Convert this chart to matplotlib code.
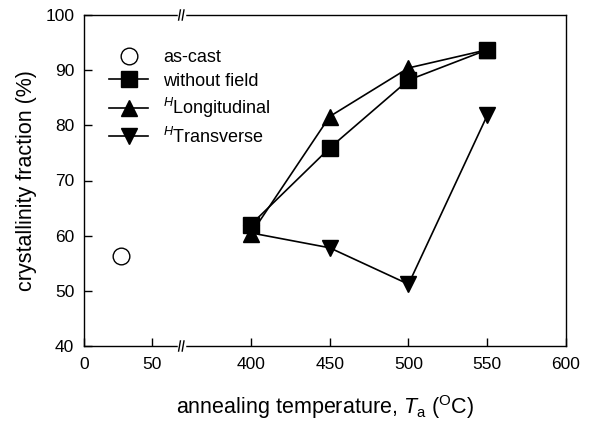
import matplotlib.pyplot as plt
from matplotlib.lines import Line2D

plt.rcParams["font.family"] = ["Liberation Sans", "DejaVu Sans"]
plt.rcParams["mathtext.fontset"] = "custom"
plt.rcParams["mathtext.rm"] = "Liberation Sans"
plt.rcParams["mathtext.it"] = "Liberation Sans:italic"

# data
as_cast_temp = [27]
as_cast_frac = [56.3]

anneal_temp = [400, 450, 500, 550]
no_field = [62.0, 75.9, 88.2, 93.7]
h_long = [60.3, 81.6, 90.4, 93.7]
h_trans = [60.5, 57.8, 51.2, 81.8]

left_ticks = [0, 50]
right_ticks = [400, 450, 500, 550, 600]


def main() -> None:
    fig = plt.figure(figsize=(5.97, 4.22), dpi=100)
    x0, x_break, x1 = 84 / 597, 181 / 597, 566 / 597
    y0, y1 = 1 - 346 / 422, 1 - 15 / 422
    ax_l = fig.add_axes((x0, y0, x_break - x0, y1 - y0))
    ax_r = fig.add_axes((x_break, y0, x1 - x_break, y1 - y0), sharey=ax_l)
    ax_r.patch.set_visible(False)

    ax_l.plot(as_cast_temp, as_cast_frac, linestyle="none", marker="o",
              ms=12, mfc="white", mec="black", mew=1.0)

    style = dict(color="black", lw=1.2, ms=11)
    ax_r.plot(anneal_temp, no_field, marker="s", **style)
    ax_r.plot(anneal_temp, h_long, marker="^", **style)
    ax_r.plot(anneal_temp, h_trans, marker="v", **style)

    ax_l.set_xlim(0, 71.3)
    ax_r.set_xlim(355.6, 600)
    ax_l.set_ylim(40, 100)
    ax_l.set_yticks([40, 50, 60, 70, 80, 90, 100])
    ax_l.set_xticks(left_ticks)
    ax_r.set_xticks(right_ticks)

    ax_l.spines["right"].set_visible(False)
    ax_r.spines["left"].set_visible(False)
    for ax in (ax_l, ax_r):
        for sp in ax.spines.values():
            sp.set_linewidth(1.0)
        ax.tick_params(direction="in", length=6, width=1.0, labelsize=12.5,
                       top=False, right=False)
        ax.tick_params(axis="x", pad=8)
        ax.tick_params(axis="y", pad=7)
    ax_r.tick_params(axis="y", left=False, labelleft=False)

    # axis break marks
    for yy in (y0, y1):
        fig.add_artist(Line2D([x_break - 0.004, x_break + 0.005], [yy, yy],
                              color="white", lw=2.5))
        for dx in (-0.004, 0.002):
            fig.add_artist(Line2D([x_break + dx, x_break + dx + 0.003],
                                  [yy - 0.012, yy + 0.012],
                                  color="black", lw=1.0))

    ax_l.set_ylabel("crystallinity fraction (%)", fontsize=15.5, labelpad=6)
    fig.text(0.545, 0.036,
             r"annealing temperature, $T_{\mathrm{a}}$ ($^{\mathrm{O}}$C)",
             ha="center", va="center", fontsize=15.5)

    handles = [
        Line2D([], [], linestyle="none", marker="o", ms=12, mfc="white",
               mec="black", mew=1.0),
        Line2D([], [], marker="s", **style),
        Line2D([], [], marker="^", **style),
        Line2D([], [], marker="v", **style),
    ]
    labels = ["as-cast", "without field",
              r"$^{H}\mathrm{Longitudinal}$", r"$^{H}\mathrm{Transverse}$"]
    fig.legend(handles, labels, loc="upper left", bbox_to_anchor=(0.17, 0.90),
               frameon=False, fontsize=13, handlelength=2.2, handletextpad=0.8,
               labelspacing=0.35, borderaxespad=0)

    fig.savefig("out.png", dpi=100)


if __name__ == "__main__":
    main()
